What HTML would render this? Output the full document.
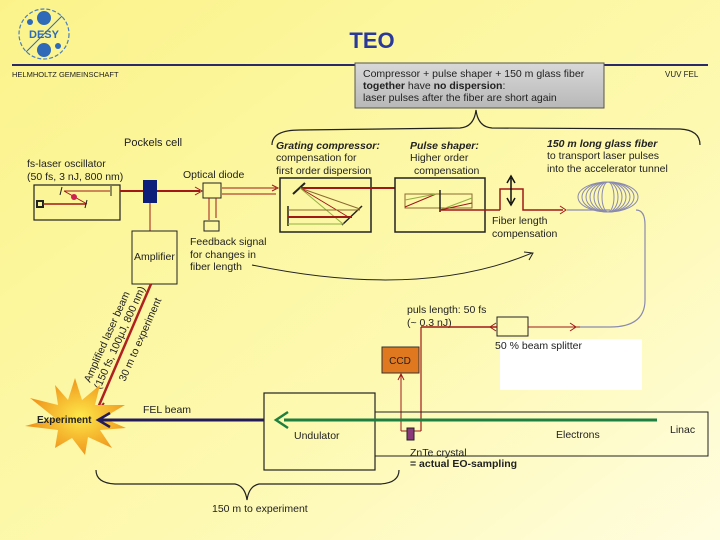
<!DOCTYPE html>
<html><head><meta charset="utf-8"><style>
body{margin:0;width:720px;height:540px;overflow:hidden;font-family:"Liberation Sans",sans-serif;}
svg{display:block}
text{font-family:"Liberation Sans",sans-serif;fill:#222}
</style></head><body>
<svg width="720" height="540" viewBox="0 0 720 540" xmlns="http://www.w3.org/2000/svg">
<defs>
<linearGradient id="bg" x1="0" y1="0" x2="1" y2="1">
<stop offset="0" stop-color="#fbf38a"/><stop offset="0.6" stop-color="#fdf9b0"/><stop offset="1" stop-color="#fffde0"/></linearGradient>
<radialGradient id="star" cx="0.55" cy="0.5" r="0.5"><stop offset="0" stop-color="#fde84a"/><stop offset="1" stop-color="#f0961c"/></radialGradient>
<linearGradient id="gray" x1="0" y1="0" x2="0" y2="1"><stop offset="0" stop-color="#d8d8d8"/><stop offset="1" stop-color="#b8b8b8"/></linearGradient>
</defs>
<rect width="720" height="540" fill="url(#bg)"/>
<circle cx="44" cy="34" r="25" fill="none" stroke="#4a7fc0" stroke-width="1.2" stroke-dasharray="4 2"/>
<circle cx="44" cy="18" r="7" fill="#2e6ab8"/><circle cx="44" cy="50" r="7" fill="#2e6ab8"/>
<circle cx="30" cy="22" r="3" fill="#2e6ab8"/><circle cx="58" cy="46" r="3" fill="#2e6ab8"/>
<line x1="26" y1="52" x2="62" y2="16" stroke="#2e6ab8"/>
<text x="44" y="38" font-size="11" font-weight="bold" text-anchor="middle" style="fill:#2e6ab8">DESY</text>
<text x="372" y="48" font-size="22" font-weight="bold" text-anchor="middle" style="fill:#2b3a9a">TEO</text>
<line x1="12" y1="65" x2="708" y2="65" stroke="#2a2a6a" stroke-width="2"/>
<text x="12" y="77" font-size="7.5">HELMHOLTZ GEMEINSCHAFT</text>
<text x="665" y="77" font-size="8">VUV FEL</text>
<rect x="355" y="63" width="249" height="45" fill="url(#gray)" stroke="#555"/>
<text x="363" y="77" font-size="10.5">Compressor + pulse shaper + 150 m glass fiber</text>
<text x="363" y="89" font-size="10.5"><tspan font-weight="bold">together</tspan> have <tspan font-weight="bold">no dispersion</tspan>:</text>
<text x="363" y="101" font-size="10.5">laser pulses after the fiber are short again</text>
<path d="M272,145 Q272,130 300,130 L460,128 Q474,127 476,110 Q478,127 492,128 L680,129 Q700,130 700,145" fill="none" stroke="#222" stroke-width="1.2"/>
<text x="124" y="146" font-size="11">Pockels cell</text>
<text x="27" y="167" font-size="10.5">fs-laser oscillator</text>
<text x="27" y="180" font-size="10.5">(50 fs, 3 nJ, 800 nm)</text>
<rect x="34" y="185" width="86" height="35" fill="none" stroke="#222" stroke-width="1.2"/>
<rect x="37" y="201" width="6" height="6" fill="none" stroke="#222" stroke-width="2"/>
<line x1="43" y1="204" x2="86" y2="204" stroke="#a01818" stroke-width="1.5"/>
<line x1="64" y1="191" x2="87" y2="204" stroke="#a01818"/>
<line x1="64" y1="191" x2="110" y2="191" stroke="#a01818"/>
<circle cx="74" cy="197" r="3" fill="#d02050"/>
<line x1="62" y1="187" x2="60" y2="195" stroke="#222"/><line x1="111" y1="186" x2="111" y2="196" stroke="#222"/><line x1="87" y1="200" x2="85" y2="208" stroke="#222"/>
<line x1="120" y1="191" x2="200" y2="191" stroke="#a01818" stroke-width="2"/>
<path d="M195,187 L202,191 L195,195" fill="none" stroke="#a01818"/>
<rect x="143" y="180" width="14" height="23" fill="#0c1e7a"/>
<line x1="150" y1="203" x2="150" y2="231" stroke="#a01818"/>
<text x="183" y="178" font-size="10.5">Optical diode</text>
<rect x="203" y="183" width="18" height="15" fill="none" stroke="#222"/>
<line x1="222" y1="188" x2="276" y2="188" stroke="#a01818"/><line x1="222" y1="194" x2="276" y2="194" stroke="#a01818"/>
<path d="M272,185 L278,188 L272,191" fill="none" stroke="#a01818"/>
<line x1="209" y1="198" x2="209" y2="220" stroke="#a01818"/><line x1="216" y1="198" x2="216" y2="218" stroke="#a01818"/>
<rect x="204" y="221" width="15" height="10" fill="none" stroke="#222"/>
<text x="190" y="245" font-size="10.5">Feedback signal</text>
<text x="190" y="258" font-size="10.5">for changes in</text>
<text x="190" y="270" font-size="10.5">fiber length</text>
<path d="M252,265 Q420,300 532,253" fill="none" stroke="#222" stroke-width="1"/>
<path d="M524,252 L533,253 L529,260" fill="none" stroke="#222"/>
<rect x="132" y="231" width="45" height="53" fill="none" stroke="#222"/>
<text x="134" y="260" font-size="10.5">Amplifier</text>
<line x1="151" y1="284" x2="97" y2="410" stroke="#b02020" stroke-width="2.5"/>
<path d="M92,400 L96,413 L104,403" fill="none" stroke="#b02020" stroke-width="2"/>
<g transform="translate(90,383) rotate(-66)" font-size="10.5"><text x="0" y="0">Amplified laser beam</text><text x="-2" y="12">(150 fs, 100μJ, 800 nm)</text></g>
<g transform="translate(125,382) rotate(-66)" font-size="10.5"><text x="0" y="0">30 m to experiment</text></g>
<text x="276" y="149" font-size="10.5" font-weight="bold" font-style="italic">Grating compressor:</text>
<text x="276" y="161" font-size="10.5">compensation for</text>
<text x="276" y="174" font-size="10.5">first order dispersion</text>
<rect x="280" y="178" width="91" height="54" fill="none" stroke="#222" stroke-width="1.5"/>
<line x1="293" y1="194" x2="305" y2="183" stroke="#222" stroke-width="2"/>
<line x1="288" y1="206" x2="288" y2="226" stroke="#222" stroke-width="1.5"/>
<line x1="342" y1="225" x2="362" y2="206" stroke="#222" stroke-width="1.5"/>
<line x1="300" y1="188" x2="395" y2="188" stroke="#a01818" stroke-width="2"/>
<line x1="300" y1="188" x2="360" y2="209" stroke="#8a6a30"/><line x1="300" y1="188" x2="350" y2="218" stroke="#a01818"/><line x1="300" y1="188" x2="343" y2="224" stroke="#90b040"/>
<line x1="288" y1="210" x2="360" y2="210" stroke="#8a6a30"/><line x1="288" y1="217" x2="352" y2="217" stroke="#a01818" stroke-width="2"/><line x1="288" y1="224" x2="344" y2="224" stroke="#90b040"/>
<text x="410" y="149" font-size="10.5" font-weight="bold" font-style="italic">Pulse shaper:</text>
<text x="410" y="161" font-size="10.5">Higher order</text>
<text x="414" y="174" font-size="10.5">compensation</text>
<rect x="395" y="178" width="90" height="54" fill="none" stroke="#222" stroke-width="1.5"/>
<rect x="405" y="194" width="67" height="14" fill="none" stroke="#8a6a30"/>
<line x1="440" y1="190" x2="440" y2="212" stroke="#222" stroke-width="1.5"/>
<line x1="405" y1="207" x2="436" y2="194" stroke="#a01818"/><line x1="405" y1="200" x2="436" y2="194" stroke="#90b040"/>
<line x1="440" y1="210" x2="472" y2="198" stroke="#90b040"/><line x1="440" y1="210" x2="472" y2="203" stroke="#a01818"/>
<line x1="440" y1="210" x2="500" y2="210" stroke="#a01818" stroke-width="1.5"/>
<path d="M500,210 L500,189 L523,189 L523,210 L563,210" fill="none" stroke="#a01818" stroke-width="1.5"/>
<path d="M560,206 L566,210 L560,214" fill="none" stroke="#a01818"/>
<line x1="511" y1="178" x2="511" y2="203" stroke="#111" stroke-width="1.5"/>
<path d="M507,183 L511,176 L515,183 M507,198 L511,205 L515,198" fill="none" stroke="#111" stroke-width="1.5"/>
<text x="492" y="224" font-size="10.5">Fiber length</text>
<text x="492" y="237" font-size="10.5">compensation</text>
<text x="547" y="147" font-size="10.5" font-weight="bold" font-style="italic">150 m long glass fiber</text>
<text x="547" y="159" font-size="10.5">to transport laser pulses</text>
<text x="547" y="172" font-size="10.5">into the accelerator tunnel</text>
<g fill="none" stroke="#8a8ab0" stroke-width="1">
<ellipse cx="608" cy="197" rx="30" ry="15"/><ellipse cx="608" cy="197" rx="26" ry="15"/><ellipse cx="608" cy="197" rx="22" ry="15"/><ellipse cx="608" cy="197" rx="18" ry="15"/><ellipse cx="608" cy="197" rx="14" ry="15"/><ellipse cx="608" cy="197" rx="10" ry="15"/><ellipse cx="608" cy="197" rx="6" ry="15"/>
</g>
<path d="M567,210 L610,210 M636,210 Q645,210 645,225 L645,300 Q645,327 610,327 L580,327" fill="none" stroke="#8a8ab0" stroke-width="1.2"/>
<text x="407" y="313" font-size="10.5">puls length: 50 fs</text>
<text x="407" y="326" font-size="10.5">(~ 0.3 nJ)</text>
<rect x="497" y="317" width="31" height="19" fill="none" stroke="#222"/>
<line x1="528" y1="327" x2="580" y2="327" stroke="#a01818"/>
<path d="M570,323 L576,327 L570,331" fill="none" stroke="#a01818"/>
<line x1="421" y1="327" x2="497" y2="327" stroke="#a01818" stroke-width="1.5"/>
<path d="M496,323 L490,327 L496,331" fill="none" stroke="#a01818"/>
<line x1="421" y1="327" x2="421" y2="431" stroke="#a01818" stroke-width="1.2"/>
<rect x="500" y="339" width="142" height="51" fill="#fff"/>
<text x="495" y="349" font-size="10.5">50 % beam splitter</text>
<rect x="382" y="347" width="37" height="26" fill="#e07820" stroke="#333"/>
<text x="400" y="364" font-size="10" text-anchor="middle">CCD</text>
<line x1="401" y1="375" x2="401" y2="431" stroke="#a01818"/>
<path d="M398,380 L401,374 L404,380" fill="none" stroke="#a01818"/>
<rect x="264" y="393" width="111" height="77" fill="none" stroke="#222" stroke-width="1.2"/>
<path d="M375,412 L708,412 L708,456 L375,456" fill="none" stroke="#222"/>
<line x1="284" y1="420" x2="657" y2="420" stroke="#1e8040" stroke-width="3"/>
<path d="M288,412 L276,420 L288,428" fill="none" stroke="#1e8040" stroke-width="2.5"/>
<text x="294" y="439" font-size="10.5">Undulator</text>
<text x="556" y="438" font-size="10.5">Electrons</text>
<text x="670" y="433" font-size="10.5">Linac</text>
<line x1="401" y1="431" x2="421" y2="431" stroke="#a01818"/>
<rect x="407" y="428" width="7" height="12" fill="#8a3a7a" stroke="#222"/>
<text x="410" y="456" font-size="10.5">ZnTe crystal</text>
<text x="410" y="467" font-size="10.5" font-weight="bold">= actual EO-sampling</text>
<polygon points="75,378 82,400 100,385 95,405 125,405 103,418 126,428 100,430 112,448 88,437 85,455 72,438 55,448 58,430 25,426 55,418 30,398 58,405 55,385 68,400" fill="url(#star)"/>
<text x="37" y="423" font-size="10" font-weight="bold">Experiment</text>
<line x1="100" y1="420" x2="264" y2="420" stroke="#221a5a" stroke-width="3"/>
<path d="M110,413 L98,420 L110,427" fill="none" stroke="#221a5a" stroke-width="2.5"/>
<text x="143" y="413" font-size="10.5">FEL beam</text>
<path d="M96,470 Q96,483 115,484 L235,484 Q245,486 247,500 Q249,486 259,484 L380,484 Q399,483 399,470" fill="none" stroke="#222" stroke-width="1.2"/>
<text x="212" y="512" font-size="10.5">150 m to experiment</text>
</svg>
</body></html>
